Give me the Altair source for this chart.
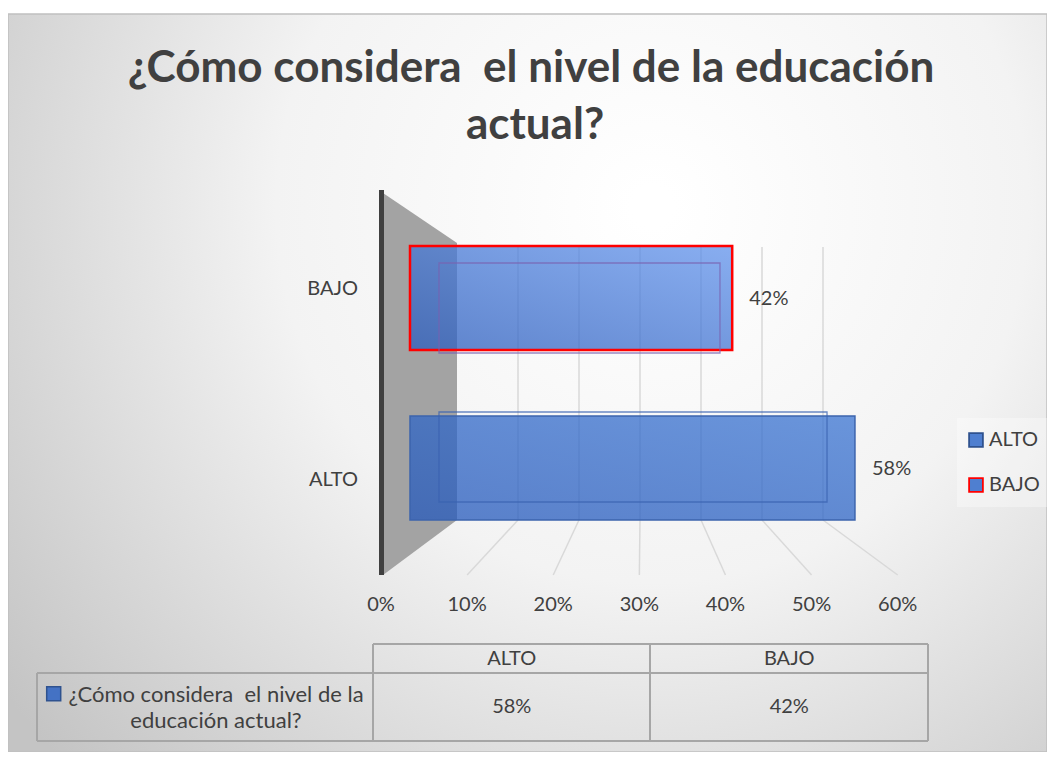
import altair as alt
import pandas as pd

# ---------------- data ----------------
categories = ["ALTO", "BAJO"]
values = [0.58, 0.42]
ticks = [0.0, 0.1, 0.2, 0.3, 0.4, 0.5, 0.6]
title_lines = ["¿Cómo considera\u00a0 el nivel de la educación", "actual?"]
series_lines = ["¿Cómo considera\u00a0 el nivel de la", "educación actual?"]

FONT = "Lato"
TXT = "#404040"
W, H = 1039, 744

df = pd.DataFrame({"cat": categories, "value": values})
df_ticks = pd.DataFrame({"v": ticks})
one = pd.DataFrame({"k": [0]})

# ---------------- layout (chart pixel space) ----------------
FRONT0, FRONT1 = 373, 889.7      # floor front edge: 0% .. 60%
BACK0, BACK1 = 449, 815          # back wall: 0% .. 60%
BAR_F = [402, 862.3]             # bar front faces 0% .. 60%
BAR_B = [431, 832.4]             # bar back faces 0% .. 60%
ORDER = ["BAJO", "ALTO"]


def vtext(txt, x, y, size, weight="normal", align="center", baseline="alphabetic", color=TXT):
    return alt.Chart(one).mark_text(
        text=txt, fontSize=size, font=FONT, fontWeight=weight, color=color,
        align=align, baseline=baseline
    ).encode(x=alt.value(x), y=alt.value(y))


def vrule(x1, y1, x2, y2, color="#a6a6a6", width=2):
    return alt.Chart(one).mark_rule(color=color, strokeWidth=width).encode(
        x=alt.value(x1), x2=alt.value(x2), y=alt.value(y1), y2=alt.value(y2)
    )


bg_grad = alt.RadialGradient(
    gradient="radial",
    stops=[alt.GradientStop(offset=0, color="#ffffff"),
           alt.GradientStop(offset=0.45, color="#f3f3f3"),
           alt.GradientStop(offset=1, color="#c4c4c4")],
    x1=0.62, y1=0.33, r1=0.02, x2=0.62, y2=0.33, r2=0.78,
)
background = alt.Chart(one).mark_rect(color=bg_grad, stroke="#c0c0c0", strokeWidth=1.5).encode(
    x=alt.value(0), x2=alt.value(W), y=alt.value(6), y2=alt.value(H)
)

# back wall gridlines
back_grid = alt.Chart(df_ticks).transform_filter("datum.v > 0").mark_rule(
    color="#d9d9d9", strokeWidth=1.5
).encode(
    x=alt.X("v:Q", scale=alt.Scale(domain=[0, 0.6], range=[BACK0, BACK1]), axis=None),
    y=alt.value(239), y2=alt.value(512),
)

# floor gridlines (front tick -> back tick)
floor_grid = alt.Chart(df_ticks).transform_filter("datum.v > 0").transform_calculate(
    vb=f"({BACK0 - FRONT0} + {(BACK1 - BACK0) / 0.6} * datum.v) / {(FRONT1 - FRONT0) / 0.6}"
).mark_rule(color="#d9d9d9", strokeWidth=1.5).encode(
    x=alt.X("v:Q", scale=alt.Scale(domain=[0, 0.6], range=[FRONT0, FRONT1]), axis=None),
    x2="vb:Q",
    y=alt.value(567), y2=alt.value(512),
)

# side wall (depth 0 = front, 1 = back)
wall_df = pd.DataFrame({"depth": [0, 1], "top": [1.0, 0.869], "bot": [0.0, 0.144]})
wall = alt.Chart(wall_df).mark_area(color="#a3a3a3").encode(
    x=alt.X("depth:Q", scale=alt.Scale(domain=[0, 1], range=[FRONT0 + 2, BACK0]), axis=None),
    y=alt.Y("top:Q", scale=alt.Scale(domain=[0, 1], range=[567, 185]), axis=None),
    y2="bot:Q",
)
axis_line = alt.Chart(one).mark_rule(color="#404040", strokeWidth=5).encode(
    x=alt.value(FRONT0 + 0.5), y=alt.value(182), y2=alt.value(567)
)

yF = alt.Scale(type="band", domain=ORDER, range=[238, 512], paddingInner=0.3882, paddingOuter=0)
yB = alt.Scale(type="band", domain=ORDER, range=[255, 494], paddingInner=0.396, paddingOuter=0)
xF = alt.Scale(domain=[0, 0.6], range=BAR_F)
xB = alt.Scale(domain=[0, 0.6], range=BAR_B)

grad_alto = alt.LinearGradient(
    gradient="linear",
    stops=[alt.GradientStop(offset=0, color="#2458bb"),
           alt.GradientStop(offset=1, color="#3a74d2")],
    x1=0, y1=1, x2=1, y2=0,
)
grad_bajo = alt.LinearGradient(
    gradient="linear",
    stops=[alt.GradientStop(offset=0, color="#2a5cbd"),
           alt.GradientStop(offset=1, color="#6193ec")],
    x1=0, y1=1, x2=1, y2=0,
)

back_faces = alt.Chart(df).mark_bar(fillOpacity=0, strokeWidth=1.3, strokeOpacity=0.75).encode(
    x=alt.X("value:Q", scale=xB, axis=None),
    y=alt.Y("cat:N", scale=yB, axis=None),
    stroke=alt.Stroke("cat:N", scale=alt.Scale(domain=categories, range=["#3a62b0", "#7a62b0"]), legend=None),
)

bar_alto = alt.Chart(df).transform_filter("datum.cat == 'ALTO'").mark_bar(
    color=grad_alto, fillOpacity=0.75, stroke="#3c64ad", strokeWidth=1.5
).encode(
    x=alt.X("value:Q", scale=xF, axis=None),
    y=alt.Y("cat:N", scale=yF, axis=None),
)
bar_bajo = alt.Chart(df).transform_filter("datum.cat == 'BAJO'").mark_bar(
    color=grad_bajo, fillOpacity=0.75, stroke="#ff0000", strokeWidth=2.5
).encode(
    x=alt.X("value:Q", scale=xF, axis=None),
    y=alt.Y("cat:N", scale=yF, axis=None),
)

bar_labels = alt.Chart(df).mark_text(
    font=FONT, fontSize=20, color=TXT, align="left", baseline="middle", dx=17, dy=1
).encode(
    x=alt.X("value:Q", scale=xF, axis=None),
    y=alt.Y("cat:N", scale=yF, axis=None),
    text=alt.Text("value:Q", format=".0%"),
)

cat_labels = alt.Chart(df).mark_text(
    font=FONT, fontSize=20, color=TXT, align="right", baseline="middle"
).encode(
    x=alt.value(350),
    y=alt.Y("cat:N", scale=alt.Scale(type="band", domain=ORDER, range=[185.5, 567.5], paddingInner=0, paddingOuter=0), axis=None),
    text="cat:N",
)

tick_labels = alt.Chart(df_ticks).mark_text(
    font=FONT, fontSize=20, color=TXT, align="center", baseline="middle"
).encode(
    x=alt.X("v:Q", scale=alt.Scale(domain=[0, 0.6], range=[FRONT0, FRONT1]), axis=None),
    y=alt.value(597),
    text=alt.Text("v:Q", format=".0%"),
)

# legend
legend_bg = alt.Chart(one).mark_rect(color="#ffffff", opacity=0.35).encode(
    x=alt.value(949), x2=alt.value(W), y=alt.value(410), y2=alt.value(499)
)
yL = alt.Scale(type="band", domain=categories, range=[409.5, 499.5], paddingInner=0, paddingOuter=0)
legend_sym = alt.Chart(df).mark_square(size=190, fill="#4f7fd0", fillOpacity=1, strokeWidth=1.8).encode(
    x=alt.value(968),
    y=alt.Y("cat:N", scale=yL, axis=None),
    stroke=alt.Stroke("cat:N", scale=alt.Scale(domain=categories, range=["#2f528f", "#ff0000"]), legend=None),
)
legend_txt = alt.Chart(df).mark_text(
    font=FONT, fontSize=20, color=TXT, align="left", baseline="middle"
).encode(
    x=alt.value(981),
    y=alt.Y("cat:N", scale=yL, axis=None),
    text="cat:N",
)

# data table
table_lines = [
    vrule(365, 636, 920, 636), vrule(29, 665, 920, 665), vrule(29, 733, 920, 733),
    vrule(29, 665, 29, 733), vrule(365, 636, 365, 733), vrule(642, 636, 642, 733),
    vrule(920, 636, 920, 733),
]
xT = alt.Scale(type="band", domain=categories, range=[365, 920], paddingInner=0, paddingOuter=0)
table_head = alt.Chart(df).mark_text(font=FONT, fontSize=20, color=TXT, baseline="middle").encode(
    x=alt.X("cat:N", scale=xT, axis=None), y=alt.value(651), text="cat:N"
)
table_vals = alt.Chart(df).mark_text(font=FONT, fontSize=20, color=TXT, baseline="middle").encode(
    x=alt.X("cat:N", scale=xT, axis=None), y=alt.value(699),
    text=alt.Text("value:Q", format=".0%"),
)
table_key = alt.Chart(one).mark_square(size=196, fill="#4472c4", stroke="#2f528f", strokeWidth=1.5, fillOpacity=1).encode(
    x=alt.value(45.7), y=alt.value(685.7)
)
row_label = [
    vtext(series_lines[0], 208, 694, 22),
    vtext(series_lines[1], 208, 720, 22),
]

title = [
    vtext(title_lines[0], 523, 74, 44, weight="bold"),
    vtext(title_lines[1], 527, 131, 44, weight="bold"),
]

layers = [background, back_grid, floor_grid, wall, axis_line,
          bar_alto, bar_bajo, back_faces, bar_labels, cat_labels, tick_labels,
          legend_bg, legend_sym, legend_txt] + table_lines + [table_head, table_vals, table_key] + row_label + title

chart = alt.layer(*layers).resolve_scale(
    x="independent", y="independent", stroke="independent"
).properties(
    width=W, height=H, padding=0, background="white",
    autosize=alt.AutoSizeParams(type="none"),
).configure_view(stroke=None)

chart.save("out.html", embed_options={"renderer": "svg", "actions": False})
